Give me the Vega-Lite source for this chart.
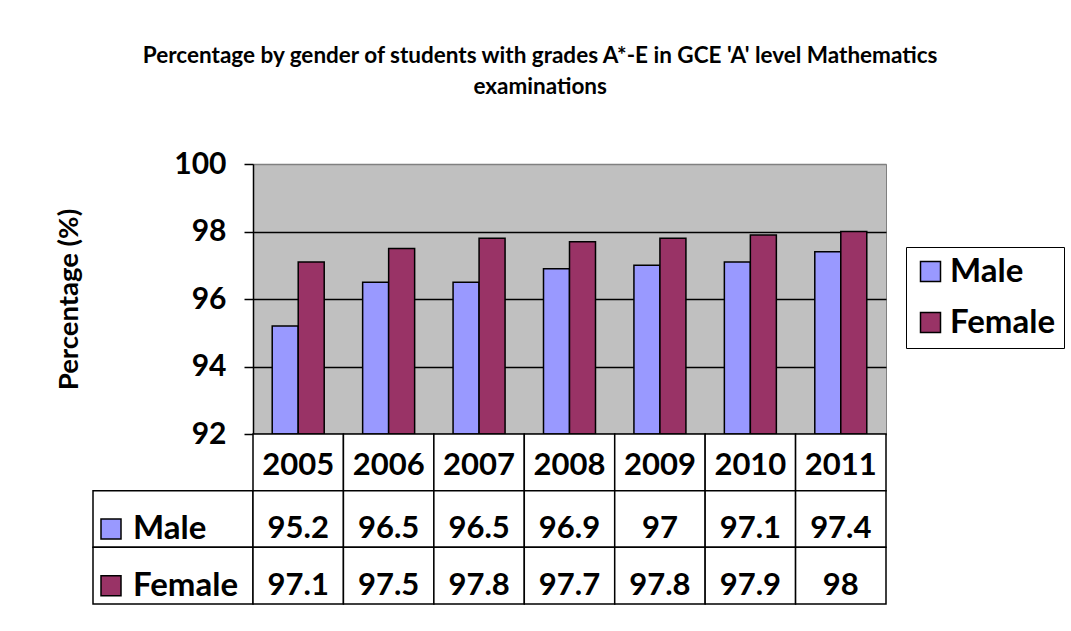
{
  "$schema": "https://vega.github.io/schema/vega-lite/v6.json",
  "padding": {"left": 55, "top": 45, "right": 5, "bottom": 5},
  "background": "white",
  "title": {
    "text": ["Percentage by gender of students with grades A*-E in GCE 'A' level Mathematics", "examinations"],
    "font": "Lato", "fontSize": 22.5, "fontWeight": "bold", "color": "black",
    "anchor": "middle", "offset": 50, "dx": -20, "lineHeight": 31
  },
  "config": {"font": "Lato", "view": {"stroke": null}},
  "datasets": {
    "scores": [
      {"year": "2005", "gender": "Male", "value": 95.2},
      {"year": "2005", "gender": "Female", "value": 97.1},
      {"year": "2006", "gender": "Male", "value": 96.5},
      {"year": "2006", "gender": "Female", "value": 97.5},
      {"year": "2007", "gender": "Male", "value": 96.5},
      {"year": "2007", "gender": "Female", "value": 97.8},
      {"year": "2008", "gender": "Male", "value": 96.9},
      {"year": "2008", "gender": "Female", "value": 97.7},
      {"year": "2009", "gender": "Male", "value": 97},
      {"year": "2009", "gender": "Female", "value": 97.8},
      {"year": "2010", "gender": "Male", "value": 97.1},
      {"year": "2010", "gender": "Female", "value": 97.9},
      {"year": "2011", "gender": "Male", "value": 97.4},
      {"year": "2011", "gender": "Female", "value": 98}
    ]
  },
  "spacing": 0,
  "bounds": "flush",
  "align": "each",
  "columns": 2,
  "resolve": {"legend": {"color": "independent"}},
  "concat": [
    {
      "width": 160, "height": 270,
      "data": {"values": []},
      "mark": "point",
      "encoding": {}
    },
    {
      "width": 633, "height": 270,
      "data": {"name": "scores"},
      "view": {"fill": "#C0C0C0", "stroke": "#808080", "strokeWidth": 1},
      "mark": {"type": "bar", "stroke": "black", "strokeWidth": 1.5},
      "encoding": {
        "x": {"field": "year", "type": "nominal", "scale": {"paddingInner": 0.425, "paddingOuter": 0.2125}, "axis": null},
        "xOffset": {"field": "gender", "type": "nominal", "scale": {"domain": ["Male", "Female"], "paddingInner": 0}},
        "y": {
          "field": "value", "type": "quantitative",
          "scale": {"domain": [92, 100], "zero": false, "nice": false},
          "axis": {
            "values": [92, 94, 96, 98, 100],
            "title": "Percentage (%)", "titleFontSize": 27.5, "titleFontWeight": "bold", "titleColor": "black", "titlePadding": 90,
            "labelFontSize": 30, "labelFontWeight": "bold", "labelColor": "black", "labelPadding": 18,
            "tickSize": 9, "tickColor": "black", "tickWidth": 1.5,
            "domainColor": "black", "domainWidth": 1.5,
            "grid": true, "gridWidth": 1.3, "gridOpacity": 1,
            "gridColor": {"condition": {"test": "datum.value == 100", "value": "#808080"}, "value": "black"}
          }
        },
        "y2": {"datum": 92},
        "color": {
          "field": "gender", "type": "nominal",
          "scale": {"domain": ["Male", "Female"], "range": ["#9999FF", "#993366"]},
          "legend": {
            "title": null, "orient": "none", "legendX": 653, "legendY": 83,
            "strokeColor": "black", "fillColor": "white", "padding": 8,
            "symbolType": "square", "symbolSize": 400, "symbolStrokeColor": "black", "symbolStrokeWidth": 1.5, "symbolOpacity": 1,
            "labelFontSize": 33, "labelFontWeight": "bold", "labelColor": "black", "labelOffset": 3, "rowPadding": 17
          }
        }
      }
    },
    {
      "width": 160, "height": 170,
      "data": {"name": "scores"},
      "transform": [{"aggregate": [{"op": "count", "as": "n"}], "groupby": ["gender"]}],
      "layer": [
        {
          "mark": {"type": "rect", "fill": "white", "stroke": "black", "strokeWidth": 1.5},
          "encoding": {
            "y": {"field": "gender", "type": "nominal", "scale": {"domain": ["Year", "Male", "Female"], "paddingInner": 0, "paddingOuter": 0}, "axis": null}
          }
        },
        {
          "mark": {"type": "point", "shape": "square", "filled": true, "size": 400, "stroke": "black", "strokeWidth": 1.5, "opacity": 1, "xOffset": -62, "yOffset": 10},
          "encoding": {
            "y": {"field": "gender", "type": "nominal"},
            "color": {"field": "gender", "type": "nominal", "legend": null}
          }
        },
        {
          "mark": {"type": "text", "align": "left", "dx": -40, "dy": 10, "fontSize": 33, "fontWeight": "bold", "color": "black"},
          "encoding": {
            "y": {"field": "gender", "type": "nominal"},
            "text": {"field": "gender", "type": "nominal"}
          }
        }
      ]
    },
    {
      "width": 633, "height": 170,
      "data": {"name": "scores"},
      "layer": [
        {
          "transform": [{"aggregate": [{"op": "count", "as": "n"}], "groupby": ["year"]}],
          "mark": {"type": "rect", "fill": "white", "stroke": "black", "strokeWidth": 1.5},
          "encoding": {
            "x": {"field": "year", "type": "nominal", "scale": {"paddingInner": 0, "paddingOuter": 0}, "axis": null},
            "y": {"datum": "Year", "type": "nominal", "scale": {"domain": ["Year", "Male", "Female"], "paddingInner": 0, "paddingOuter": 0}, "axis": null}
          }
        },
        {
          "transform": [{"aggregate": [{"op": "count", "as": "n"}], "groupby": ["year"]}],
          "mark": {"type": "text", "fontSize": 31, "fontWeight": "bold", "color": "black", "dy": 4},
          "encoding": {
            "x": {"field": "year", "type": "nominal"},
            "y": {"datum": "Year", "type": "nominal"},
            "text": {"field": "year", "type": "nominal"}
          }
        },
        {
          "mark": {"type": "rect", "fill": "white", "stroke": "black", "strokeWidth": 1.5},
          "encoding": {
            "x": {"field": "year", "type": "nominal"},
            "y": {"field": "gender", "type": "nominal"}
          }
        },
        {
          "mark": {"type": "text", "fontSize": 31, "fontWeight": "bold", "color": "black", "dy": 10},
          "encoding": {
            "x": {"field": "year", "type": "nominal"},
            "y": {"field": "gender", "type": "nominal"},
            "text": {"field": "value", "type": "nominal"}
          }
        }
      ]
    }
  ]
}
